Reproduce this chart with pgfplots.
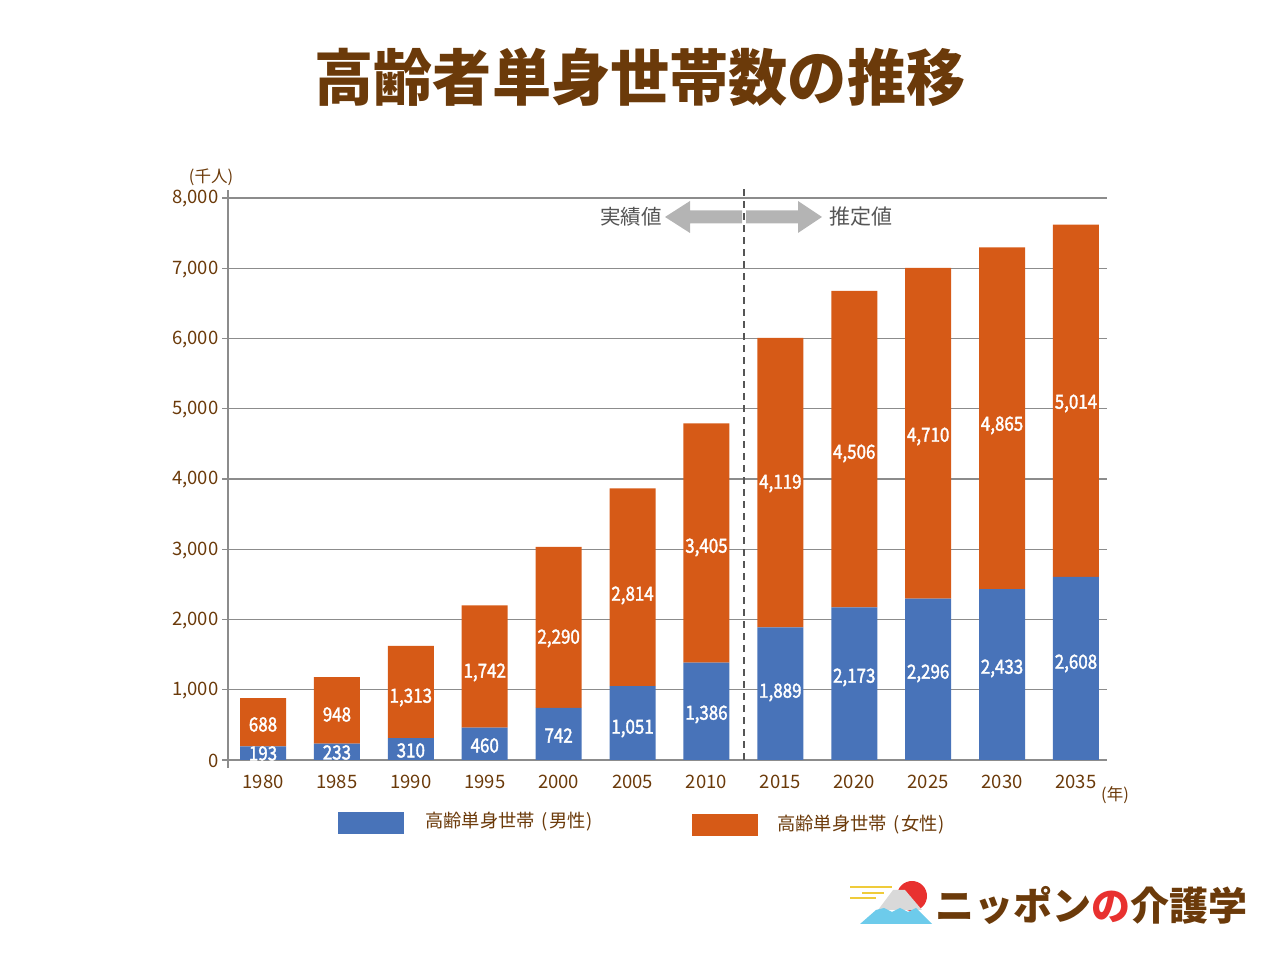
\documentclass[border=0pt]{standalone}
\usepackage{pgfplots}
\pgfplotsset{compat=1.18}
\usepackage{pgfplotstable}
\usepackage{fontspec}
\setmainfont{Noto Sans CJK JP}
\newfontfamily\lblfont{Noto Sans CJK JP}[FakeBold=2]
\definecolor{brn}{HTML}{6B3A0A}
\definecolor{blu}{HTML}{4873B9}
\definecolor{org}{HTML}{D65A17}
\definecolor{grd}{HTML}{8C8C8C}
\definecolor{arr}{HTML}{B4B4B4}
\definecolor{dsh}{HTML}{555555}
\definecolor{fuji}{HTML}{6DCBEB}
\definecolor{sun}{HTML}{E8312F}
\definecolor{ylw}{HTML}{EFCB3A}

% m, f: values; lm, lf: heights at which their labels sit
\pgfplotstableread{
i year m f lm lf
0 1980 193 688 114 527
1 1985 233 948 128 669
2 1990 310 1313 157 911
3 1995 460 1742 228 1267
4 2000 742 2290 370 1751
5 2005 1051 2814 470 2363
6 2010 1386 3405 669 3046
7 2015 1889 4119 982 3957
8 2020 2173 4506 1196 4384
9 2025 2296 4710 1253 4626
10 2030 2433 4865 1324 4783
11 2035 2608 5014 1395 5096
}\data

\begin{document}
\begin{tikzpicture}
\path[use as bounding box] (0pt,0pt) rectangle (1280pt,960pt);

\begin{scope}[x=1pt,y=1pt]
% title
\node[text=brn, font=\fontsize{61}{66}\selectfont\bfseries, xscale=0.97] at (640,883) {高齢者単身世帯数の推移};

% arrows
\fill[arr] (665,743) -- (690,759) -- (690,749.5) -- (742,749.5) -- (742,736.5) -- (690,736.5) -- (690,727) -- cycle;
\fill[arr] (822,743) -- (798,759) -- (798,749.5) -- (746,749.5) -- (746,736.5) -- (798,736.5) -- (798,727) -- cycle;
\node[anchor=east, text=dsh, font=\fontsize{20.5}{22}\selectfont, inner sep=0] at (662,743) {実績値};
\node[anchor=west, text=dsh, font=\fontsize{21}{22}\selectfont, inner sep=0] at (829,743) {推定値};
\end{scope}

\begin{axis}[
  at={(228pt,200pt)}, anchor=south west, scale only axis,
  width=879pt, height=562pt,
  ybar stacked, bar width=46pt,
  xmin=-0.474, xmax=11.42, ymin=0, ymax=8000,
  ytick={0,1000,...,8000},
  xtick={0,...,11},
  xticklabels={1980,1985,1990,1995,2000,2005,2010,2015,2020,2025,2030,2035},
  axis x line=bottom, axis y line=left,
  axis line style={-, grd, line width=1.5pt},
  y axis line style={shorten <=-8pt, shorten >=-8pt},
  ymajorgrids, grid style={grd, line width=1.1pt},
  xtick style={draw=none},
  ytick style={grd, line width=1.1pt},
  tick align=outside, major tick length=6pt,
  yticklabel style={font=\fontsize{18.5}{20}\selectfont, text=brn, yshift=-1pt},
  xticklabel style={font=\fontsize{18.5}{20}\selectfont, text=brn, yshift=-6pt},
  scaled y ticks=false,
  /pgf/number format/1000 sep={,},
  /pgf/number format/assume math mode=true,
  clip=false,
]
\addplot[fill=blu, draw=none] table[x=i,y=m]{\data};
\addplot[fill=org, draw=none] table[x=i,y=f]{\data};
\end{axis}

\draw[dsh, line width=2.2pt, dash pattern=on 7pt off 5pt] (744pt,200pt) -- (744pt,775pt);

\begin{axis}[
  at={(228pt,200pt)}, anchor=south west, scale only axis,
  width=879pt, height=562pt,
  xmin=-0.474, xmax=11.42, ymin=0, ymax=8000,
  hide axis, clip=false,
  /pgf/number format/1000 sep={,},
  /pgf/number format/assume math mode=true,
  nodes near coords,
  point meta=explicit,
  every node near coord/.append style={anchor=center, text=white, font=\fontsize{19.5}{21}\selectfont\lblfont, xscale=0.87, inner sep=0pt, yshift=-1.5pt},
]
\addplot[draw=none, mark=none] table[x=i, y=lm, meta=m]{\data};
\addplot[draw=none, mark=none] table[x=i, y=lf, meta=f]{\data};
\end{axis}

\begin{scope}[x=1pt,y=1pt]
% unit labels
\node[text=brn, font=\fontsize{16.5}{18}\selectfont] at (211,783) {(千人)};
\node[text=brn, font=\fontsize{16.5}{18}\selectfont] at (1115,165) {(年)};

% legend
\fill[blu] (338,126) rectangle (404,148);
\node[anchor=west, text=brn, font=\fontsize{18.3}{20}\selectfont, inner sep=0] at (425,138) {高齢単身世帯\hspace{7pt}(\hspace{1pt}男性\hspace{1pt})};
\fill[org] (692,124) rectangle (758,146);
\node[anchor=west, text=brn, font=\fontsize{18.3}{20}\selectfont, inner sep=0] at (777,135) {高齢単身世帯\hspace{7pt}(\hspace{1pt}女性\hspace{1pt})};

% logo
\fill[sun] (912,64) circle (15);
\draw[ylw, line width=2.5pt] (850,73) -- (892,73);
\draw[ylw, line width=2.5pt] (862,67) -- (884,67);
\draw[ylw, line width=2.5pt] (850,62) -- (876,62);
\fill[gray!30] (878,50) -- (893,70) -- (905,70) -- (922,50) -- cycle;
\fill[fuji] (860,36) -- (932,36) -- (916,52) -- (908,48) -- (900,52) -- (892,48) -- (884,52) -- (876,50) -- cycle;
\node[anchor=west, inner sep=0, font=\fontsize{39}{42}\selectfont\bfseries] at (935,55) {\textcolor{brn}{ニッポン}\textcolor{sun}{の}\textcolor{brn}{介護学}};
\end{scope}
\end{tikzpicture}
\end{document}
